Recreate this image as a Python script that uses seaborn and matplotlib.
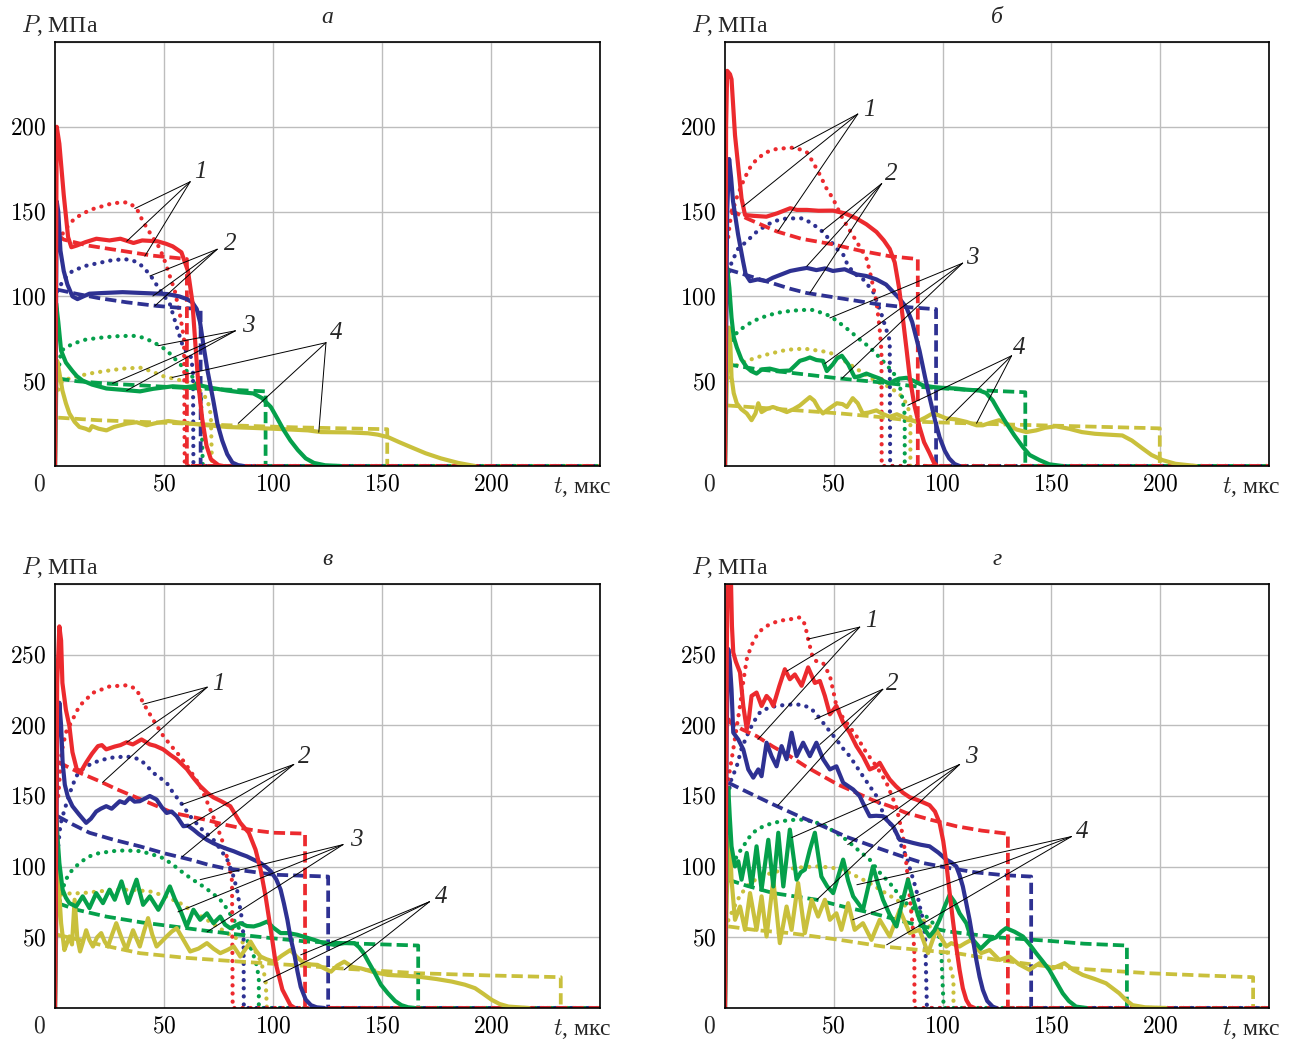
import matplotlib
matplotlib.use("Agg")
import matplotlib.pyplot as plt
import pandas as pd
import seaborn as sns

# ---------------- colours ----------------
RED = "#EC2A2E"
BLUE = "#2E3192"
GREEN = "#05A04B"
YELLOW = "#C9C03C"

# ---------------- panel а ----------------
A_RED_SOLID = [(0, 0), (0.8, 200), (2, 190), (4, 160), (6, 135), (7.5, 129), (10, 130), (14, 132), (19, 134), (25, 133),
               (30, 134), (36, 131.5), (40, 133), (47, 132.5), (51, 131), (54, 129.5), (58, 126), (61, 115), (63, 97),
               (64.5, 70), (65.7, 49), (67.5, 28), (69.5, 12), (71.5, 4), (75, 0.5), (77, 0)]
A_RED_DASHED = [(1.5, 136), (4, 133.5), (15, 130), (30, 127), (45, 124), (57, 122.5), (60.5, 122), (60.5, 0), (250, 0)]
A_RED_DOTTED = [(1.5, 133), (5, 140), (9, 146), (16, 151), (26.6, 155), (33.5, 155.5), (37.4, 152), (40.4, 144),
                (44, 136.5), (48, 128.5), (50.4, 120.7), (55, 103), (57.5, 88), (59.2, 75), (59.5, 0), (250, 0)]
A_BLUE_SOLID = [(0, 0), (0.8, 156), (1.5, 150), (2.5, 127), (4, 115), (5.7, 107), (8, 100), (10.3, 98.4), (13, 100),
                (15.8, 101.6), (22, 102), (31, 102.5), (40, 102), (51.4, 101.4), (57, 100), (60.5, 98.4), (63, 96.5),
                (65, 92.6), (66.5, 85), (68, 72), (70, 56), (72.6, 38.7), (74.5, 25), (76.7, 15), (79, 7), (81.4, 2),
                (84, 0.5), (86.5, 0)]
A_BLUE_DASHED = [(1, 104), (10, 101.5), (20, 99), (33, 96.5), (46.6, 94.4), (57, 93.3), (66.8, 92.6), (66.8, 0), (250, 0)]
A_BLUE_DOTTED = [(1, 103), (4, 110), (8, 115), (14, 118), (20.4, 119.8), (26, 121.3), (32, 122), (36, 121), (39, 119),
                 (43.5, 113), (48, 104), (52.7, 95.5), (56, 81.5), (58.3, 72), (60.5, 67), (62.5, 64), (63.3, 55),
                 (63.5, 0), (250, 0)]
A_GREEN_SOLID = [(0, 0), (0.5, 96), (1.5, 85), (2.8, 68), (5, 61), (8, 56), (10, 53), (12.6, 50.4), (17, 48),
                 (23.6, 45.7), (30, 45), (39, 44), (45, 45.5), (54, 47), (60, 46.5), (66.6, 47.5), (72, 46), (79, 44.5),
                 (85, 43.5), (91, 42.8), (95, 40), (99, 34.8), (102, 28), (105, 21), (108, 15), (111.4, 9.4),
                 (115, 4.5), (118.8, 1.8), (124, 0.4), (131, 0)]
A_GREEN_DASHED = [(1.5, 51.6), (10, 50), (25, 48.5), (40, 47.5), (60, 46), (80, 45), (96.6, 44), (96.6, 0), (250, 0)]
A_GREEN_DOTTED = [(1.5, 55), (2.8, 68), (8, 72), (14, 74.5), (20.4, 75.6), (28, 76.5), (35.7, 76.8), (40, 75.8),
                  (43.5, 74), (48, 71), (51.4, 68), (57.4, 60), (63.5, 52), (65.5, 47), (67, 40), (67.8, 0), (250, 0)]
A_YELLOW_SOLID = [(0, 0), (0.5, 40), (1, 62), (2, 55), (3.4, 44.5), (5, 37), (6.6, 31), (9, 26), (11.2, 23), (14, 22),
                  (15.8, 21), (17, 23.5), (20, 22), (23.6, 21), (27, 23), (30, 24), (33, 25), (37.4, 25.8), (42, 24),
                  (47, 25.5), (52, 26.5), (56, 25.8), (62, 25), (70, 24), (79, 23), (90, 22.5), (100, 22), (116, 21),
                  (122, 20), (135, 19.8), (143.6, 19.3), (148, 18.5), (152.8, 17), (158, 14), (163.5, 11), (170, 7.5),
                  (177, 4.5), (185, 1.8), (192.6, 0)]
A_YELLOW_DASHED = [(1.5, 28.5), (20, 27), (50, 25.5), (80, 24), (110, 22.8), (140, 22), (152.4, 21.7), (152.4, 0),
                   (250, 0)]
A_YELLOW_DOTTED = [(1.5, 45), (3.4, 50.4), (9, 52.5), (15.8, 54.5), (23, 56), (31, 57.4), (39, 58), (44, 56),
                   (49.5, 53), (54, 51.6), (58, 50.4), (63.5, 48.6), (67, 44), (70, 38.7), (71.5, 30), (72, 0), (250, 0)]

# ---------------- panel б ----------------
B_RED_SOLID = [(0, 0), (0.5, 200), (1, 233), (2.3, 231), (3, 228), (4.6, 195), (6, 177.6), (7.6, 157.7), (9.2, 148),
               (13, 147.5), (19, 147), (24, 149), (30, 152), (33, 151), (37.6, 151), (43, 150.5), (49.6, 150.6),
               (55, 149), (60.4, 146), (65, 142.5), (69.6, 138), (73, 133), (75.7, 128), (78, 120), (80, 105),
               (81.7, 87.5), (83.5, 68), (84.9, 52.3), (87, 36), (89.4, 23), (91.5, 14), (94, 7.6), (96, 2), (97.5, 0)]
B_RED_DASHED = [(2.3, 151), (10, 146), (23.8, 138.3), (35, 134), (49.6, 130.7), (62, 127), (75.7, 123.7), (88.6, 122),
                (88.6, 0), (250, 0)]
B_RED_DOTTED = [(1.5, 135), (2.3, 144), (5, 157), (8.3, 167.6), (11, 175), (14.6, 181), (19, 185), (23.8, 187),
                (31.3, 187.7), (35, 186.5), (37.6, 185), (40.5, 179), (43.6, 171.7), (46.5, 164), (49.6, 157.7),
                (54, 146), (60.4, 132.5), (65, 122.5), (66.5, 115), (69.6, 97), (71, 82), (71.9, 68), (72, 0), (250, 0)]
B_BLUE_SOLID = [(0, 0), (1, 150), (1.9, 181), (2.8, 170), (3.7, 156), (6, 136.6), (8.3, 120.7), (9.5, 113), (11.5, 109),
                (15, 110), (19, 109), (22, 111), (26, 113), (30, 115), (34, 116), (37.6, 116.8), (42, 115.5),
                (46, 116.5), (49.6, 115), (55, 116), (60.4, 113), (65, 112), (69.6, 110), (74, 107), (77, 103),
                (80, 99), (83.4, 93.4), (86, 85), (89.4, 68), (92, 52), (94, 40.6), (96.5, 27), (98.6, 17), (101, 9),
                (103, 4.5), (105.5, 1.2), (107.8, 0)]
B_BLUE_DASHED = [(1, 116), (10, 112.5), (20, 108.5), (30, 104.5), (37.6, 102), (50, 99.5), (60, 97.5), (69.6, 95.5),
                 (80, 94), (95.4, 92.6), (97, 92.5), (97, 0), (250, 0)]
B_BLUE_DOTTED = [(1, 110), (3, 120), (6, 128), (10, 132.5), (14, 137.5), (19, 142), (23, 144.5), (28.4, 146),
                 (35.8, 146), (40, 143), (45, 138), (48, 133.5), (51.4, 128), (54.3, 124.7), (56.6, 117.8), (60, 113),
                 (63.5, 110), (68, 103), (71.9, 89.5), (75.7, 74), (75.9, 0), (250, 0)]
B_GREEN_SOLID = [(0, 0), (0.5, 90), (1, 116.8), (2, 105), (3, 87.5), (4, 76), (5.4, 70), (7.5, 63), (10, 58.2), (12, 56),
                 (14.5, 54.5), (17, 57), (20.6, 57.4), (25, 56), (29.8, 56.3), (32, 59), (34.4, 62), (37, 63), (39, 64),
                 (42, 62.5), (45, 62), (46.8, 56), (49.6, 60), (51.5, 63.5), (53.7, 65), (56.6, 60), (59.6, 52.3),
                 (62, 53), (65, 54.5), (68, 53), (71, 51.6), (73, 50), (75.7, 48.6), (78, 50.5), (80, 51.5),
                 (83.4, 52), (87, 50), (91, 47.5), (96, 46.5), (101, 46), (106, 45.7), (111, 45), (117, 44.5),
                 (120, 43), (123, 38.7), (126, 32), (129.3, 25.2), (133, 18), (136.8, 11.3), (140, 6.5), (144.5, 3.5),
                 (149, 1), (155, 0)]
B_GREEN_DASHED = [(1, 60), (15, 57), (30, 55), (52.8, 51.6), (70, 49.5), (91, 46.5), (110, 45), (138, 43.5), (138, 0),
                  (250, 0)]
B_GREEN_DOTTED = [(1.5, 65), (3, 74), (5, 78), (8.3, 81.6), (13, 85.5), (19, 88.5), (24, 90.3), (29.8, 91.4), (35, 92),
                  (40.4, 92), (44, 90.5), (48.2, 88.5), (52, 85), (57.3, 79.7), (62, 74.5), (66.5, 70), (72.5, 62),
                  (76, 57), (78.9, 52.3), (80.5, 46), (81.7, 38.7), (82.6, 30), (82.6, 0), (250, 0)]
B_YELLOW_SOLID = [(0, 0), (0.8, 50), (1.8, 81.6), (2.5, 70), (3, 52.3), (4, 43), (5.4, 37), (7.5, 33.5), (10, 31),
                  (12.2, 27), (14, 31), (15.3, 37), (16.8, 31.8), (19, 33.5), (22, 34.8), (25, 33.5), (28.4, 31.8),
                  (31.5, 33.5), (34.4, 35.7), (37, 38.5), (39, 40.6), (41, 38.5), (43, 34), (45, 31), (48, 34),
                  (51.4, 37), (54, 36.5), (56, 34.8), (58.7, 40), (61, 37), (63.3, 31), (66, 31.5), (69.6, 32.8),
                  (72, 31), (75.7, 29), (79, 30.5), (81.7, 29), (85, 27.5), (88, 26), (92, 28.5), (95.4, 31), (98, 30),
                  (101.8, 28), (106, 27.5), (111, 26), (115.6, 24), (118.5, 24), (122, 25.5), (126, 27), (130, 24.5),
                  (134, 21.5), (138.5, 20), (143, 21), (147, 22.5), (152, 23.4), (158, 22), (164, 20), (170, 19),
                  (176, 18.5), (182.6, 18), (187, 15), (191.7, 10.5), (196, 6.5), (201, 3.5), (207, 1.3), (216.5, 0)]
B_YELLOW_DASHED = [(1, 35.7), (20, 34), (52.8, 31), (70, 29), (91, 26), (126, 24.6), (160, 23.5), (199.8, 22.2),
                   (199.8, 0), (250, 0)]
B_YELLOW_DOTTED = [(1.5, 52), (3, 58), (8, 61), (14.5, 64), (20, 66), (26.6, 68), (32, 69), (37.5, 69), (43, 68),
                   (48, 67), (53, 63.5), (57.3, 60), (62, 56), (66.5, 52.3), (71, 49), (75.7, 46.5), (78.9, 43.5),
                   (81.7, 40.6), (84, 35), (85.2, 29), (85.2, 0), (250, 0)]

# ---------------- panel в ----------------
C_RED_SOLID = [(0, 0), (1, 230), (2, 270), (2.8, 260), (3.4, 230), (5, 211), (6.6, 199.5), (8, 181), (10, 168.8),
               (12, 167.6), (14.3, 173.7), (17, 180), (19.7, 185.3), (21.5, 186), (23.5, 183), (27.4, 185), (30, 186),
               (32.8, 188), (35.7, 186.5), (39.7, 190), (43.5, 186.5), (46, 185.5), (49.6, 183), (53, 179),
               (55.8, 176), (60.5, 169), (63.4, 163), (66.6, 157), (70, 152), (72.7, 149), (76, 146.5), (80.4, 142.8),
               (85, 131), (88.9, 124), (92, 112), (94.3, 98), (96.6, 79), (99, 55), (101.2, 32), (104.3, 13),
               (108, 2), (110, 0)]
C_RED_DASHED = [(1.5, 174), (6.6, 170), (12, 166), (20.4, 160.5), (28, 155), (35.7, 150), (45, 144), (54.3, 138),
                (62, 135.5), (69.7, 133), (77, 130), (85, 127.4), (92, 125.5), (100.3, 124), (114.7, 123.4),
                (114.7, 0), (250, 0)]
C_RED_DOTTED = [(1.5, 150), (3, 181), (5, 195), (7.4, 202), (11.2, 213.7), (17.4, 223), (25, 227.5), (33.5, 228.4),
                (37.4, 225.5), (40.4, 216), (45, 204), (49.7, 192.4), (53, 186), (57.4, 178), (62, 168), (66.6, 157),
                (70, 145), (74, 130), (77.5, 115), (80, 100), (81.2, 90), (81.5, 0), (250, 0)]
C_BLUE_SOLID = [(0, 0), (1, 190), (2, 216), (2.8, 200), (3.5, 173.7), (4.5, 158), (5.8, 150), (8, 142.8), (11, 137),
                (14.3, 131), (16.5, 134), (18.9, 139), (21, 141), (23.5, 142.8), (26, 141), (29.7, 146.3), (32, 145),
                (34.3, 148.7), (36.5, 146), (38.9, 146.3), (41, 148), (43.5, 150), (46.6, 147.5), (49, 142),
                (51.2, 138), (53.5, 139), (55.8, 135.7), (58.9, 128.6), (61, 129), (63.5, 126.2), (66, 123),
                (69.7, 119), (72.7, 116.5), (75.8, 114.4), (79, 112.5), (82, 110.9), (85, 109), (88, 107.3),
                (91, 105), (94.3, 102.6), (97, 99.5), (99, 96.7), (101.5, 91), (103.5, 83.7), (105, 74), (106.6, 62.4),
                (108, 50), (109.7, 38.8), (111.2, 26), (112.7, 15), (115, 6), (117.4, 2), (120, 0.5), (123.5, 0)]
C_BLUE_DASHED = [(1.2, 135.7), (8, 130), (15.8, 124), (27, 119), (38.9, 114.4), (50, 109.5), (62, 105), (70, 101.5),
                 (77.3, 99), (90, 96.5), (100.4, 94.3), (125.3, 93), (125.3, 0), (250, 0)]
C_BLUE_DOTTED = [(1.5, 115), (2.5, 130), (4.3, 140), (7, 153), (9.7, 164), (13, 169.5), (17.4, 173.5), (25, 177),
                 (32.8, 178), (38.9, 176), (42, 171.5), (45, 166.5), (51.2, 159.4), (54.3, 152), (57.4, 146),
                 (62, 135.7), (67, 127), (72.7, 119), (76, 112), (79, 105), (81.5, 95), (83.5, 83.7), (85.8, 62.4),
                 (86.5, 50), (86.6, 0), (250, 0)]
C_GREEN_SOLID = [(0, 0), (0.5, 137), (1.2, 120), (2, 102.6), (3.5, 83.7), (5, 78), (6.6, 74.2), (9.7, 71.8),
                 (12.7, 79), (15.8, 70.7), (18.9, 81.3), (22, 74.2), (25, 83.7), (27.4, 76.6), (30.5, 89.6),
                 (33.5, 74.2), (37.4, 90.8), (40.4, 73), (43.5, 79), (47.4, 69.5), (50, 77), (52.7, 86), (55, 77),
                 (57.4, 69.5), (60.4, 57.7), (63.5, 69.5), (66.6, 62.4), (69.7, 67), (72.7, 60), (75.8, 64.7),
                 (78, 59), (80.4, 56.5), (85, 60), (88, 58), (91.2, 57.7), (94, 59), (97.4, 61.2), (100, 57),
                 (103.5, 53), (107, 53), (111.2, 51.8), (115, 50), (118.9, 48.2), (123, 46), (128, 44.7),
                 (132.7, 45.9), (137.3, 45.9), (139.5, 43), (141.5, 39), (144, 32), (146.6, 25), (149.5, 16.5),
                 (152.7, 10.4), (156, 5), (158.9, 2), (162, 0.5), (165, 0)]
C_GREEN_DASHED = [(1.2, 74.2), (10, 69.5), (23.5, 64.7), (40, 60.5), (54.3, 57.7), (70, 54.5), (85, 51.8),
                  (100, 49.3), (115.8, 47), (140, 45.5), (166.6, 44.2), (166.6, 0), (250, 0)]
C_GREEN_DOTTED = [(1.5, 70), (3.4, 83.7), (5, 91), (8, 98), (12, 103.5), (15.8, 107.3), (20, 109.5), (26.6, 111),
                  (32, 111.5), (38.9, 111), (44, 109), (49.7, 106), (54, 101.5), (58.9, 95.5), (63, 91), (68, 86),
                  (72, 81.5), (75.8, 76.6), (79, 70), (82, 62.4), (85, 55), (88.1, 48.2), (90.5, 40), (92.7, 29.3),
                  (93.5, 20), (93.5, 0), (250, 0)]
C_YELLOW_SOLID = [(0, 0), (0.6, 60), (1.2, 99), (2, 80), (2.8, 60), (4.3, 41), (5.5, 46), (6.6, 50.6), (7.8, 45),
                  (9, 76.6), (10.2, 50), (11.5, 40), (12.7, 46), (14.3, 55), (15.8, 48), (17.4, 43.5), (19.3, 50),
                  (21.2, 53), (22.8, 47), (24.3, 43.5), (26.2, 52), (28.1, 60), (30.4, 50), (32.7, 41), (34.2, 48),
                  (35.8, 55), (37.4, 49), (38.9, 43.5), (40.8, 54), (42.7, 63.6), (44.6, 52), (46.6, 43.5), (48.9, 47),
                  (51.2, 50.6), (53.5, 54), (55.8, 56.5), (59, 48), (62, 40), (65.8, 42), (69.7, 45.9), (72.7, 42),
                  (75.8, 38.8), (79, 41), (82, 43.5), (83.5, 40), (85, 36.4), (87.5, 42), (89.7, 47), (92, 41),
                  (94.3, 36.4), (97, 34.5), (100.4, 32.8), (104, 37), (108, 41), (111, 36), (114.3, 31.7),
                  (117.5, 30.8), (120.4, 30.5), (123.5, 28), (126.6, 25.7), (129.5, 30), (132.7, 32.8), (136.5, 29),
                  (140.4, 28), (146, 25.5), (152.7, 23.4), (160, 22.8), (166.6, 22.2), (175, 20.5), (182, 18.7),
                  (188, 16.5), (192.7, 14), (196.5, 10), (200.4, 5.7), (204, 2.8), (208, 1), (217.4, 0)]
C_YELLOW_DASHED = [(1.2, 51.8), (20, 45), (38.9, 38.8), (60, 35.5), (85, 32.8), (110, 30.3), (131, 28), (166.6, 24.6),
                   (200, 23), (232, 21.8), (232, 0), (250, 0)]
C_YELLOW_DOTTED = [(1.5, 70), (2, 80), (6, 81), (12.7, 81.3), (20, 82.5), (28.1, 83.7), (36, 83.5), (43.5, 82.5),
                   (50, 79.5), (57.4, 74.2), (63, 68.5), (69.7, 62.4), (75, 57), (79, 53), (83, 49.5), (86.6, 45.9),
                   (90, 42), (92.8, 38.8), (95, 30), (96.6, 20), (97.2, 0), (250, 0)]

# ---------------- panel г ----------------
D_RED_SOLID = [(0, 0), (0.8, 250), (1.4, 320), (2.5, 320), (3.2, 270), (3.8, 251.5), (5, 245), (6.9, 237.4),
               (8.4, 213.7), (10, 197.2), (11, 205), (12.2, 220.8), (14.5, 223.2), (16.8, 213.7), (19.1, 220.8),
               (20.8, 218), (22.2, 213.7), (25, 228), (27.5, 239.7), (29.8, 232.6), (32.1, 236), (35.2, 228),
               (38.2, 241), (41.3, 230), (43.6, 231.4), (45.9, 220.8), (48.2, 207.8), (51.2, 213.7), (54.3, 202),
               (57.3, 194.8), (60.4, 185.3), (63.4, 178.2), (66.5, 168.8), (69, 170.5), (71.1, 173.5), (73.5, 167),
               (75.7, 161.7), (78.5, 157), (81.8, 152.3), (85, 149), (87.9, 147.5), (91, 145.5), (94, 143.5),
               (96.5, 139), (98.6, 131), (100.3, 118), (101.7, 102.6), (103.2, 82), (104.7, 62.4), (106.3, 43),
               (107.8, 27), (109.3, 14), (110.9, 5.7), (112.5, 1.5), (114.7, 0)]
D_RED_DASHED = [(1.5, 205), (2.3, 202), (8, 197), (14.5, 192.4), (22, 185), (29.8, 178.2), (37, 171), (45, 164),
                (52, 158), (60.4, 152.3), (68, 147), (75.7, 142.8), (83.3, 138), (95, 133), (106.3, 128.6),
                (118, 125.5), (130, 123.3), (130, 0), (250, 0)]
D_RED_DOTTED = [(1.5, 161.7), (3.8, 183), (5.5, 200), (6.9, 213.7), (8.5, 232), (10, 246.8), (12, 256), (14.5, 263.3),
                (17, 268), (20.6, 271.6), (25, 274), (29.8, 275), (34.4, 276.4), (36.7, 271.6), (38.2, 261),
                (40.5, 246.8), (42.5, 245), (45.1, 244), (48.2, 235), (49.8, 224), (51.2, 213.7), (53.5, 207),
                (55.8, 202), (60.4, 192.4), (65, 180.6), (69.6, 171), (74.2, 159.4), (78.8, 142), (81.8, 121.5),
                (83.3, 102.6), (84.9, 79), (86.4, 55.3), (87, 40), (87.1, 0), (250, 0)]
D_BLUE_SOLID = [(0, 0), (0.8, 200), (1.5, 254), (2.2, 245), (3, 225.5), (3.8, 194.8), (6.1, 190), (8.4, 183),
                (10.7, 168.8), (13, 163), (15.3, 168.8), (16.8, 164), (19.1, 187.7), (21.4, 178.2), (23.7, 171),
                (26, 185.3), (28.3, 176), (30.6, 194.8), (32.9, 178.2), (35.9, 187.7), (39, 178.2), (42, 187.7),
                (45.1, 176), (48.2, 168.8), (51.2, 171), (54.3, 159.4), (58.9, 154.6), (61.9, 149.9), (63.4, 145),
                (66.5, 135.7), (69.5, 136), (72.6, 135.7), (75, 132), (77.2, 128.6), (80.3, 119), (83.5, 118),
                (86.4, 116.8), (90, 115.5), (94, 114.4), (98, 110), (101.7, 105), (104, 103), (106.3, 100.2),
                (107.8, 94), (109.3, 86), (110.9, 74), (112.4, 62.4), (114, 48), (115.5, 34), (117, 22), (118.5, 12.8),
                (120.5, 5), (123, 1), (124.6, 0)]
D_BLUE_DASHED = [(1.5, 159.4), (10, 153), (22.2, 144), (35, 135), (45.1, 128.6), (56, 121), (68, 114.4), (80, 108),
                 (91, 102.6), (103.2, 99), (115, 96), (128, 94), (140.7, 93), (140.7, 0), (250, 0)]
D_BLUE_DOTTED = [(1.5, 150), (2.5, 160), (5.4, 171), (7.5, 183), (10, 192.4), (13, 202), (16, 209), (20, 212.5),
                 (23.7, 213.7), (28, 214.5), (32.9, 214.9), (36, 214), (39, 212.6), (42, 208), (45, 202), (48, 196),
                 (51.2, 190), (54, 184), (57.3, 178.2), (60.4, 171), (63.4, 164), (66.5, 157), (69.6, 150),
                 (72.6, 138), (75.7, 131), (78.8, 124), (81, 115), (83.3, 107.3), (85.5, 96), (87.9, 83.7),
                 (89.5, 72), (91, 62.4), (92, 50), (92.8, 0), (250, 0)]
D_GREEN_SOLID = [(0, 0), (0.8, 130), (1.5, 155.8), (2.2, 135), (3, 114.4), (4.6, 100.2), (6.1, 103.8), (7.6, 90.8),
                 (10, 109.7), (12.2, 86), (14.5, 114.4), (16.8, 83.7), (19.9, 119), (22.2, 86), (24.5, 124),
                 (26.8, 86), (29.8, 126.2), (32.9, 90.8), (34.8, 96), (36.7, 97.9), (39, 112), (41.3, 124),
                 (44.3, 93), (47, 86), (49.7, 81.3), (52, 93), (54.3, 105), (56.6, 90), (58.9, 79), (63.4, 69.5),
                 (68, 100.2), (70.3, 88), (72.6, 76.6), (75.7, 66), (78.8, 57.7), (81.5, 75), (84.1, 90.8), (86.8, 75),
                 (89.4, 62.4), (92, 55), (94, 50.6), (96.3, 55), (98.6, 62.4), (101, 72), (103.2, 80), (105.5, 75),
                 (107.8, 67), (110.9, 60), (113, 50), (117.5, 42), (121.6, 48.2), (124.6, 50), (127, 54),
                 (129.2, 56.5), (133, 54), (136.9, 50.6), (140, 45), (143, 38.8), (146, 33), (149, 27), (152, 19),
                 (155.2, 10.4), (158, 5), (161.3, 1), (166, 0)]
D_GREEN_DASHED = [(1.5, 90.8), (10, 86.5), (22.2, 81.3), (32, 79), (42.1, 76.6), (55, 71.5), (68, 67), (80, 62),
                  (91, 57.7), (103.2, 54), (125, 50), (149, 47.5), (165, 45.5), (184.7, 44.2), (184.7, 0), (250, 0)]
D_GREEN_DOTTED = [(1.5, 90), (3.8, 102.6), (6, 109), (8.4, 114.4), (11, 120.5), (14.5, 126.2), (19, 129.5),
                  (25.2, 132), (30, 133), (35.9, 133.3), (40, 132), (45, 129.8), (50, 125), (55.8, 119), (61, 112),
                  (66.5, 105), (71, 96), (75.7, 88.4), (79.5, 81), (83.3, 74.2), (87, 70), (91, 67), (94, 62.5),
                  (97.1, 57.7), (98.8, 48), (99.4, 38.8), (100.5, 0), (250, 0)]
D_YELLOW_SOLID = [(0, 0), (0.8, 80), (2, 120.3), (2.5, 110), (3, 90.8), (4.6, 62.4), (6.9, 71.8), (9.2, 55.3),
                  (11.5, 81.3), (14.5, 55.3), (16.8, 79), (19.1, 50.6), (22.2, 90.8), (25.2, 45.9), (28.3, 71.8),
                  (30.6, 55.3), (33.6, 88.4), (36.7, 53), (39.8, 76.6), (42.8, 64.7), (45.9, 76.6), (48.2, 62.4),
                  (51.2, 67), (53.5, 55.3), (56.6, 74.2), (59.6, 55.3), (63.4, 60), (67.3, 48.2), (71.1, 62.4),
                  (75.7, 50.6), (80.3, 69.5), (84.9, 53), (89.4, 55.3), (93.3, 38.8), (97.1, 55.3), (101.7, 43.5),
                  (104, 45.9), (107.8, 43.5), (110.5, 46), (113.2, 48.2), (115.5, 43), (117.7, 38.8), (121.6, 41),
                  (126.1, 34), (130.7, 36.4), (135, 31), (139.9, 27), (144.5, 31.7), (150.6, 28), (156, 31.7),
                  (160, 27), (164.4, 23.4), (170, 20.5), (175.1, 17.5), (181.2, 10.4), (184, 6), (187.3, 2),
                  (193, 0.5), (202.6, 0)]
D_YELLOW_DASHED = [(1.5, 57.7), (15, 55), (29.8, 53), (52.8, 48.2), (72.6, 43.5), (90, 41), (106.3, 38.8), (125, 34),
                   (149, 29.3), (170, 27), (195, 24.6), (220, 23), (242.7, 21.8), (242.7, 0), (250, 0)]
D_YELLOW_DOTTED = [(1.5, 62), (3.8, 70), (7, 80), (11.5, 88.4), (17, 93.5), (26.8, 97.9), (35, 99.5), (42.1, 100.2),
                   (48, 99.5), (54.3, 97.9), (60, 93.5), (66.5, 88.4), (72, 83), (78.8, 76.6), (85, 70), (91, 62.4),
                   (96, 55), (100.2, 48.2), (102, 40), (103.2, 31.7), (105, 20), (105, 0), (250, 0)]

# ---------------- labels ----------------
PANEL_TITLES = ["а", "б", "в", "г"]
Y_TICKS_TOP = [50, 100, 150, 200]
Y_TICKS_BOTTOM = [50, 100, 150, 200, 250]
X_TICKS = [50, 100, 150, 200]
CURVE_NUMBERS = ["1", "2", "3", "4"]

# ---------------- styling ----------------
sns.set_style("white")
plt.rcParams["mathtext.fontset"] = "cm"
plt.rcParams["font.family"] = ["Liberation Serif", "DejaVu Serif"]

STYLE = {
    "solid": dict(linestyle="-", lw=3.0),
    "dashed": dict(linestyle=(0, (3.0, 1.35)), lw=2.7),
    "dotted": dict(linestyle=(0, (0.05, 1.9)), lw=3.0),
}

panels = [
    dict(title="а", ymax=250, yticks=Y_TICKS_TOP,
         curves={"red": (A_RED_SOLID, A_RED_DASHED, A_RED_DOTTED), "blue": (A_BLUE_SOLID, A_BLUE_DASHED, A_BLUE_DOTTED),
                 "green": (A_GREEN_SOLID, A_GREEN_DASHED, A_GREEN_DOTTED),
                 "yellow": (A_YELLOW_SOLID, A_YELLOW_DASHED, A_YELLOW_DOTTED)},
         ann=[((66.7, 173.5), (62, 167.6), [(36.6, 151.8), (32.9, 132.5), (41.2, 123.7)]),
              ((80.4, 130.7), (74.4, 127.8), [(43.5, 112), (44.9, 100.2), (45.8, 94.4)]),
              ((88.7, 82.6), (82.7, 79.7), [(47.2, 70.9), (26.4, 48.7), (32.9, 44.5)]),
              ((128.9, 78.5), (124.3, 72.7), [(53.7, 52.2), (84.1, 25.2), (121, 19.9)])]),
    dict(title="б", ymax=250, yticks=Y_TICKS_TOP,
         curves={"red": (B_RED_SOLID, B_RED_DASHED, B_RED_DOTTED), "blue": (B_BLUE_SOLID, B_BLUE_DASHED, B_BLUE_DOTTED),
                 "green": (B_GREEN_SOLID, B_GREEN_DASHED, B_GREEN_DOTTED),
                 "yellow": (B_YELLOW_SOLID, B_YELLOW_DASHED, B_YELLOW_DOTTED)},
         ann=[((66.5, 209.8), (61, 207.5), [(31.2, 187), (8.3, 153), (24.3, 138.3)]),
              ((76.6, 172.3), (72, 166.5), [(44.5, 138.3), (37.6, 117.8), (39, 102)]),
              ((113.8, 122.5), (109.2, 119.6), [(48.2, 87.3), (45.9, 60.4), (53.7, 51.6)]),
              ((135.3, 69.8), (131.7, 65), [(84, 35.8), (101.8, 27), (115.6, 25.2)])]),
    dict(title="в", ymax=300, yticks=Y_TICKS_BOTTOM,
         curves={"red": (C_RED_SOLID, C_RED_DASHED, C_RED_DOTTED), "blue": (C_BLUE_SOLID, C_BLUE_DASHED, C_BLUE_DOTTED),
                 "green": (C_GREEN_SOLID, C_GREEN_DASHED, C_GREEN_DOTTED),
                 "yellow": (C_YELLOW_SOLID, C_YELLOW_DASHED, C_YELLOW_DOTTED)},
         ann=[((74.9, 229), (69.8, 227), [(40.3, 214.9), (32.9, 188), (21.8, 159.6)]),
              ((114.1, 177.3), (109.5, 172.3), [(58.3, 144), (60.6, 128.4), (58.3, 107)]),
              ((138.1, 119), (132.1, 115.6), [(66.6, 90.8), (56.4, 68), (69.8, 53.9)]),
              ((177.3, 78.7), (171.8, 75.2), [(95.7, 18.4), (112.7, 37.6), (132.6, 27)])]),
    dict(title="г", ymax=300, yticks=Y_TICKS_BOTTOM,
         curves={"red": (D_RED_SOLID, D_RED_DASHED, D_RED_DOTTED), "blue": (D_BLUE_SOLID, D_BLUE_DASHED, D_BLUE_DOTTED),
                 "green": (D_GREEN_SOLID, D_GREEN_DASHED, D_GREEN_DOTTED),
                 "yellow": (D_YELLOW_SOLID, D_YELLOW_DASHED, D_YELLOW_DOTTED)},
         ann=[((67.4, 273.8), (61.9, 269.5), [(38.1, 261), (28.4, 238.3), (15.1, 190)]),
              ((77, 229), (72.5, 225.5), [(41.3, 204.3), (43.6, 186.5), (24.3, 143.3)]),
              ((113.3, 177.3), (107.8, 172.3), [(30.7, 120.6), (56.4, 115.6), (42.2, 76.6)]),
              ((164.2, 124.8), (159.2, 121.3), [(60.6, 87.2), (58.7, 62.4), (74.3, 44.7)])]),
]

COLORS = {"red": RED, "blue": BLUE, "green": GREEN, "yellow": YELLOW}

W, H = 1294, 1039
fig = plt.figure(figsize=(W / 100, H / 100), dpi=100)
positions = [
    [55 / W, 1 - 466 / H, 545 / W, 424 / H],
    [725 / W, 1 - 466 / H, 544 / W, 424 / H],
    [55 / W, 1 - 1008 / H, 545 / W, 424 / H],
    [725 / W, 1 - 1008 / H, 544 / W, 424 / H],
]

FS = 17

for pos, panel in zip(positions, panels):
    ax = fig.add_axes(pos)
    ax.set_axisbelow(True)
    # draw: dotted, then dashed, then solid
    for kind_idx, kind in [(2, "dotted"), (1, "dashed"), (0, "solid")]:
        for cname in ["yellow", "green", "blue", "red"]:
            pts = panel["curves"][cname][kind_idx]
            df = pd.DataFrame(pts, columns=["t", "P"])
            n_before = len(ax.lines)
            sns.lineplot(data=df, x="t", y="P", ax=ax, color=COLORS[cname], sort=False,
                         estimator=None, errorbar=None, **STYLE[kind])
            for ln in ax.lines[n_before:]:
                if kind == "dotted":
                    ln.set_dash_capstyle("round")
                else:
                    ln.set_dash_capstyle("butt")
                ln.set_solid_capstyle("round")
                ln.set_solid_joinstyle("round")
    ax.set_xlim(0, 250)
    ax.set_ylim(0, panel["ymax"])
    ax.set_xlabel("")
    ax.set_ylabel("")
    ax.set_xticks(X_TICKS + [250])
    ax.set_xticklabels([f"${v}$" for v in X_TICKS] + [""])
    ax.set_yticks(panel["yticks"] + [panel["ymax"]])
    ax.set_yticklabels([f"${v}$" for v in panel["yticks"]] + [""])
    ax.tick_params(direction="in", length=6, width=1.2, colors="black", labelsize=FS, pad=6,
                   top=False, right=False)
    ax.grid(True, color="#BDBDBD", lw=1.0)
    for sp in ax.spines.values():
        sp.set_color("black")
        sp.set_linewidth(1.2)
        sp.set_visible(True)

    # text
    ax.text(-0.062, 1.040, "$P$, МПа", transform=ax.transAxes, ha="left", va="center", fontsize=FS)
    ax.text(0.5, 1.057, panel["title"], transform=ax.transAxes, ha="center", va="center", fontsize=FS,
            style="italic")
    ax.text(1.022, -0.05, "$t$, мкс", transform=ax.transAxes, ha="right", va="center", fontsize=FS)
    ax.text(-0.029, -0.045, "$0$", transform=ax.transAxes, ha="center", va="center", fontsize=FS)

    # leader annotations
    for num, (txt_xy, org_xy, ends) in zip(CURVE_NUMBERS, panel["ann"]):
        for end in ends:
            ax.annotate("", xy=end, xytext=org_xy,
                        arrowprops=dict(arrowstyle="-", lw=0.7, color="black", shrinkA=0, shrinkB=0))
        ax.text(txt_xy[0], txt_xy[1], num, ha="center", va="center", fontsize=FS + 1, style="italic")

fig.savefig("out.png", dpi=100)
